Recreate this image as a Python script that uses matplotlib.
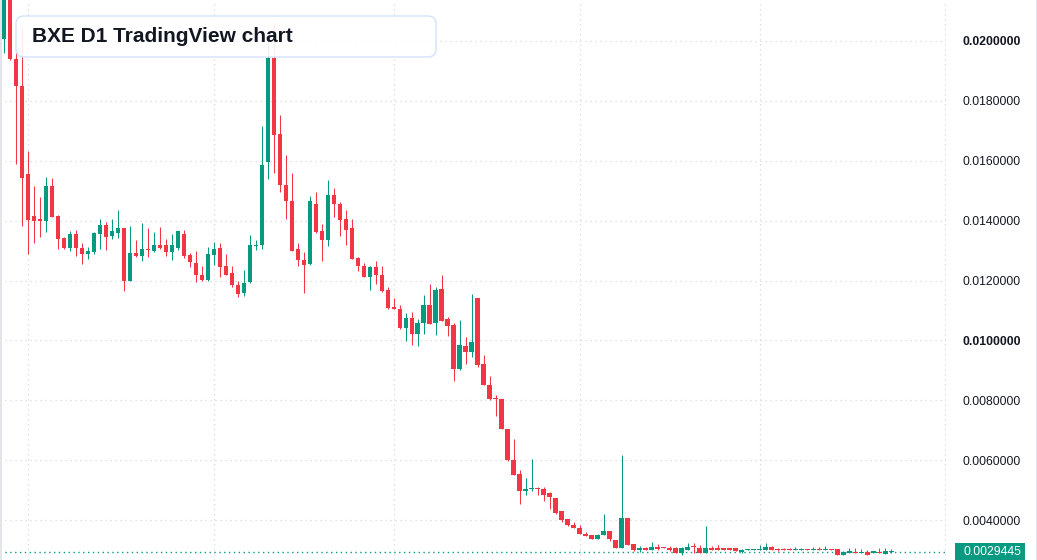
import numpy as np
import pandas as pd
import matplotlib
matplotlib.use('Agg')
import matplotlib.pyplot as plt
import matplotlib.dates as mdates
from matplotlib.patches import FancyBboxPatch, Rectangle
from matplotlib.transforms import IdentityTransform, blended_transform_factory

plt.rcParams['font.family'] = ['Liberation Sans', 'DejaVu Sans']

# daily candles of BXE, prices written in units of 1e-4
opens = [200.5, 216, 193.9, 184.8, 155.5, 141.4, 140.4, 139.8, 151.4, 141.4,
         134.1, 130.8, 135.4, 131.0, 129.0, 129.5, 135.4, 138.6, 134.8, 135.8,
         137.7, 119.8, 129.3, 128.1, 130.6, 129.8, 132.0, 131.7, 129.5, 131.0,
         135.7, 128.4, 126.0, 122.0, 120.1, 128.5, 130.7, 124.8, 122.4, 118.5,
         115.7, 119.5, 131.5, 131.7, 159.5, 194.3, 168.9, 151.9, 146.7, 130.4,
         126.7, 125.5, 145.7, 136.7, 133.5, 148.7, 145.7, 140.4, 137.4, 127.4,
         125.0, 121.1, 124.4, 122.0, 116.7, 111.0, 110.4, 104.0, 107.6, 102.0,
         105.7, 111.7, 105.7, 117.0, 107.0, 105.0, 90.4, 98.2, 96.0, 114.2,
         92.2, 85.2, 80.9, 80.5, 70.5, 60.2, 55.5, 49.6, 50.2, 50.6,
         50.2, 48.9, 47.5, 42.9, 40.2, 38.5, 37.4, 35.5, 34.9, 33.5,
         34.9, 36.5, 33.4, 30.5, 40.7, 32.0, 30.0, 30.5, 30.0, 31.1,
         30.8, 30.5, 30.5, 29.1, 30.0, 31.1, 30.8, 29.1, 30.8, 30.5,
         30.5, 30.5, 30.5, 29.3, 30.0, 30.0, 30.0, 30.0, 31.0, 30.3,
         30.3, 30.3, 30.0, 30.0, 30.3, 30.0, 30.3, 30.0, 30.3, 30.3,
         28.3, 29.1, 29.3, 29.0, 29.3, 28.9, 29.3, 28.7, 29.4]
highs = [218, 217, 197.8, 204.3, 163.4, 151.4, 148.0, 154.7, 154.4, 142.0,
         134.5, 136.7, 137.0, 132.4, 131.3, 136.1, 140.4, 139.5, 140.4, 143.7,
         137.7, 138.1, 133.4, 139.3, 137.5, 136.3, 137.8, 133.7, 135.7, 136.6,
         136.8, 129.3, 129.7, 125.0, 131.3, 132.8, 132.4, 129.0, 124.8, 119.8,
         123.5, 135.3, 133.4, 171.5, 201.5, 206.1, 175.4, 162.0, 155.9, 132.6,
         129.6, 148.1, 149.7, 139.0, 153.7, 151.0, 146.3, 143.4, 140.4, 127.9,
         125.7, 124.8, 126.4, 124.8, 117.7, 114.1, 111.7, 109.0, 109.5, 107.0,
         115.0, 118.7, 117.7, 121.7, 107.7, 105.7, 106.7, 101.1, 115.5, 114.2,
         95.2, 88.2, 81.8, 80.5, 70.5, 66.9, 56.6, 54.2, 60.5, 50.9,
         50.9, 49.3, 47.5, 42.9, 40.4, 39.3, 38.2, 36.0, 34.9, 35.5,
         41.9, 36.5, 33.4, 61.7, 40.7, 32.0, 31.4, 31.0, 32.5, 32.0,
         31.1, 31.4, 31.1, 31.1, 32.4, 32.4, 31.7, 38.0, 31.4, 31.7,
         30.5, 30.5, 30.8, 30.3, 30.3, 30.3, 31.7, 32.3, 31.4, 30.7,
         30.7, 30.7, 31.0, 30.7, 30.3, 31.0, 31.1, 31.4, 30.3, 30.3,
         29.65, 30.7, 30.7, 30.3, 30.0, 29.6, 30.7, 30.7, 30.3]
lows = [196.1, 193.6, 158.9, 138.1, 129.0, 132.5, 134.5, 136.1, 141.1, 130.6,
        130.4, 129.7, 128.1, 125.4, 127.3, 128.7, 130.6, 130.3, 133.8, 134.3,
        116.5, 119.8, 127.8, 126.5, 127.8, 129.5, 130.4, 128.1, 126.8, 130.1,
        127.6, 124.5, 119.5, 119.8, 119.8, 125.1, 121.1, 121.7, 117.9, 114.5,
        114.8, 119.3, 130.1, 130.6, 154.0, 155.9, 149.6, 140.4, 129.8, 124.8,
        115.8, 125.3, 135.9, 126.5, 131.5, 141.1, 134.8, 132.0, 127.3, 123.1,
        121.1, 116.8, 118.7, 116.1, 110.4, 110.4, 103.7, 99.8, 98.4, 98.1,
        102.0, 105.5, 101.7, 106.4, 101.5, 86.5, 90.1, 92.2, 94.6, 91.1,
        85.0, 80.2, 74.6, 70.3, 59.6, 55.2, 45.5, 48.5, 49.6, 48.5,
        46.5, 43.8, 42.1, 39.3, 38.0, 37.2, 35.2, 34.5, 33.5, 33.5,
        34.9, 33.0, 30.5, 30.5, 31.7, 29.5, 29.4, 30.0, 30.0, 30.1,
        30.5, 29.6, 29.1, 28.3, 30.0, 29.1, 29.1, 29.1, 30.0, 30.1,
        30.1, 30.1, 29.6, 29.0, 30.0, 30.0, 30.0, 30.0, 30.0, 29.6,
        30.0, 30.0, 30.0, 30.0, 30.0, 30.0, 30.0, 30.0, 30.0, 28.3,
        28.3, 29.1, 29.0, 29.0, 28.3, 28.9, 29.0, 28.7, 29.0]
closes = [216, 193.9, 184.8, 154.1, 140.1, 139.8, 139.8, 151.4, 141.1, 133.8,
          130.8, 135.6, 130.8, 129.0, 129.7, 135.9, 138.4, 134.5, 136.7, 137.4,
          119.8, 129.3, 128.1, 130.4, 130.2, 132.0, 130.9, 129.5, 131.7, 136.4,
          128.1, 126.1, 121.8, 120.1, 128.7, 130.6, 124.5, 122.0, 118.5, 115.5,
          119.3, 131.7, 132.0, 158.7, 194.3, 168.5, 151.8, 146.5, 129.8, 126.8,
          125.1, 146.4, 136.3, 133.5, 148.7, 145.4, 140.1, 137.0, 127.3, 124.8,
          121.1, 124.4, 121.8, 116.5, 110.8, 110.4, 104.0, 107.4, 102.0, 105.7,
          111.7, 105.5, 116.7, 106.4, 104.8, 90.4, 98.4, 96.0, 99.5, 91.9,
          85.0, 80.5, 80.5, 70.3, 60.0, 55.2, 49.6, 50.5, 50.5, 50.2,
          48.5, 47.7, 42.4, 40.0, 38.2, 37.2, 35.2, 34.5, 33.5, 35.1,
          36.5, 33.5, 30.5, 40.7, 31.7, 30.0, 30.5, 30.0, 31.1, 30.3,
          30.5, 30.1, 29.1, 30.5, 31.1, 30.9, 29.1, 30.8, 30.0, 30.1,
          30.1, 30.1, 29.6, 30.0, 30.3, 30.3, 30.3, 31.0, 30.0, 30.0,
          30.0, 30.0, 30.3, 30.3, 30.0, 30.3, 30.0, 30.3, 30.0, 28.3,
          29.3, 29.7, 29.0, 29.3, 28.3, 29.6, 29.0, 29.65, 29.445]

first_day = '2023-07-28'
last_price = 0.0029445
price_ticks = [0.004, 0.006, 0.008, 0.010, 0.012, 0.014, 0.016, 0.018, 0.020]
bold_ticks = [0.010, 0.020]
title = 'BXE D1 TradingView chart'

UP = '#089981'
DOWN = '#F23645'
TXT = '#131722'
GRID = '#d6d9e0'

o = np.array(opens) * 1e-4
h = np.array(highs) * 1e-4
l = np.array(lows) * 1e-4
c = np.array(closes) * 1e-4
dates = pd.date_range(first_day, periods=len(o), freq='D')
x = mdates.date2num(dates)
colors = np.where(c >= o, UP, DOWN)

W, H = 1037, 560
fig = plt.figure(figsize=(W / 100, H / 100), dpi=100)
fig.patch.set_facecolor('white')
ax = fig.add_axes([0, 0, 946 / W, 1])

# wicks + bodies (doji gets a 1px body)
one_px = 1e-4 / 2.994
ax.vlines(x, l, h, colors=colors, linewidth=0.75, zorder=3)
body = np.maximum(np.abs(c - o), one_px)
ax.bar(x, body, width=0.75, bottom=np.minimum(o, c), color=colors, linewidth=0, zorder=4)

ax.axhline(last_price, color=UP, linestyle=(0, (1, 2.5)), linewidth=1, zorder=2)

ax.set_xlim(x[0] - 0.67, x[0] + 157.1)
ax.set_ylim(26.65e-4, 213.69e-4)

ax.xaxis.set_major_locator(mdates.MonthLocator())
ax.tick_params(axis='x', length=0, labelbottom=False)
ax.set_yticks(price_ticks)
ax.set_yticklabels(['%.7f' % v for v in price_ticks])
ax.yaxis.tick_right()
ax.tick_params(axis='y', length=0, pad=12.2, labelsize=8.8, labelcolor=TXT)
for lbl, v in zip(ax.get_yticklabels(), price_ticks):
    if any(abs(v - b) < 1e-9 for b in bold_ticks):
        lbl.set_fontweight('bold')
ax.grid(True, linestyle=(0, (1, 3)), color=GRID, linewidth=0.9)
ax.set_axisbelow(True)
for s in ax.spines.values():
    s.set_visible(False)

# last price tag
tr = blended_transform_factory(fig.transFigure, ax.transData)
fig.add_artist(Rectangle((955, 0), 70, 17.5, transform=IdentityTransform(),
                         facecolor=UP, edgecolor='none', zorder=5))
fig.text(963 / W, last_price, '%.7f' % last_price, transform=tr, color='white',
         fontsize=8.8, va='center', ha='left', zorder=6)

# borders of the page
fig.add_artist(Rectangle((0, 0), 2, H, transform=IdentityTransform(),
                         facecolor='#e3e5ea', edgecolor='none'))
fig.add_artist(Rectangle((1035.5, 0), 1, H, transform=IdentityTransform(),
                         facecolor='#e0e3eb', edgecolor='none'))

# title box
fig.add_artist(FancyBboxPatch((16, H - 57), 420, 41, transform=IdentityTransform(),
                              boxstyle='round,pad=0,rounding_size=8',
                              facecolor=(1, 1, 1, 0.9), edgecolor='#d3e2fa',
                              linewidth=1.0, zorder=7))
fig.text(32 / W, 1 - 37 / H, title, fontsize=15, fontweight='bold',
         color=TXT, va='center', ha='left', zorder=8)

fig.savefig('out.png', dpi=100)
